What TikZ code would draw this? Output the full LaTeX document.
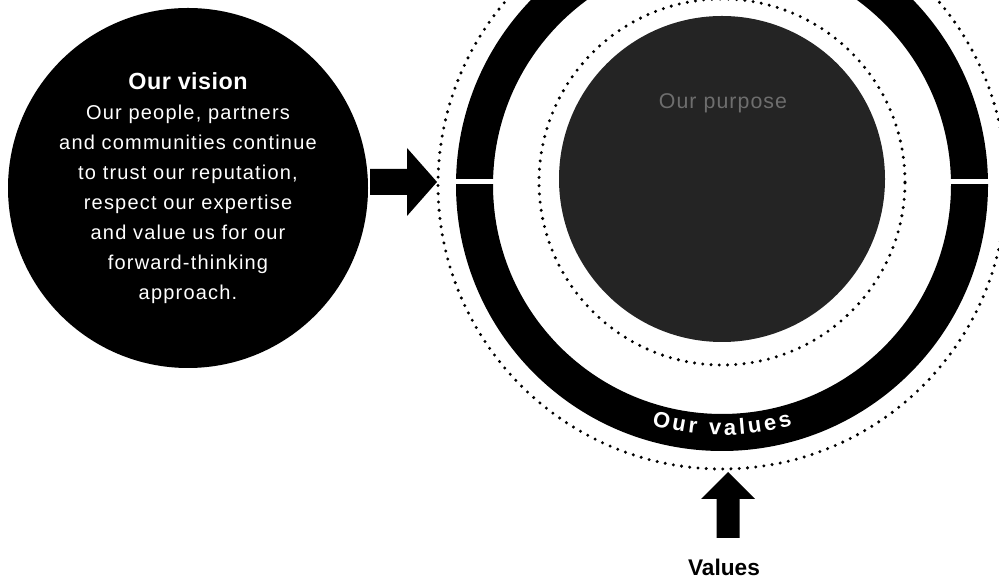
\documentclass[tikz,border=0pt]{standalone}
\usepackage{fontspec}
\setmainfont{Liberation Sans}
\usetikzlibrary{calc,decorations.text}
\definecolor{discfill}{RGB}{36,36,36}
\definecolor{disctext}{RGB}{110,110,110}
\tikzset{
  dotline/.style={line width=2.5pt, line cap=round, dash pattern=on 0pt off 6.2pt},
  blockarrow/.style={fill=black},
  visionbox/.style={circle, fill=black, text=white, minimum size=270pt, inner sep=0pt, align=center,
    font=\fontsize{15}{22.5}\selectfont\addfontfeatures{LetterSpace=6}},
  discbox/.style={circle, fill=discfill, minimum size=244.5pt, inner sep=0pt},
}
\newcommand{\valuesfont}{\fontsize{16.5}{18}\selectfont\bfseries}
\begin{document}
\begin{tikzpicture}[x=0.75pt,y=0.75pt]
\useasboundingbox (0,0) rectangle (999,584);
\clip (0,0) rectangle (999,584);
% centres
\coordinate (C) at (722,399);
\coordinate (Cd) at (722,402);
% vision circle
\node[visionbox] (vision) at (188,396) {%
  {\fontsize{17.5}{23}\selectfont\addfontfeatures{LetterSpace=2}\bfseries Our vision}\\
  Our people, partners\\
  and communities continue\\
  to trust our reputation,\\
  respect our expertise\\
  and value us for our\\
  forward-thinking\\
  approach.};
% ring system
\draw[dotline] (C) circle (284);
\fill[black, even odd rule] (C) circle (266) (C) circle (229);
\fill[white] ($(C)+(-270,0.5)$) rectangle ($(C)+(-224,5.5)$);
\fill[white] ($(C)+(224,0.5)$) rectangle ($(C)+(270,5.5)$);
\draw[dotline] (Cd) circle (183);
\node[discbox] (disc) at (722,405) {};
\node[text=disctext, font=\fontsize{16}{18}\selectfont\addfontfeatures{LetterSpace=5}] (purpose) at (723,481) {Our purpose};
\path[decorate, decoration={text effects along path, text={Our values}, text align=center,
  text effects/.cd, text along path,
  characters={text=white, font=\valuesfont, inner sep=0pt, anchor=base},
  character widths={font=\valuesfont, inner sep=0pt, inner xsep=1.2pt}}]
  (C) ++(234:250) arc (234:306:250);
% right arrow (vision -> ring)
\coordinate (tailR) at (370,402);
\coordinate (tipR) at (437,402);
\fill[blockarrow] (tailR) ++(0,13) -- ++(37,0) -- ++(0,21) -- (tipR) -- ++(-30,-34) -- ++(0,21) -- ++(-37,0) -- cycle;
% up arrow (values -> ring)
\node[font=\fontsize{17}{19}\selectfont\bfseries] (values) at (724,17) {Values};
\coordinate (tailU) at (728,46);
\coordinate (tipU) at (728,112);
\fill[blockarrow] (tailU) ++(-11.5,0) -- ++(23,0) -- ++(0,39) -- ++(15.5,0) -- (tipU) -- ++(-27,-27) -- ++(15.5,0) -- cycle;
\end{tikzpicture}
\end{document}
